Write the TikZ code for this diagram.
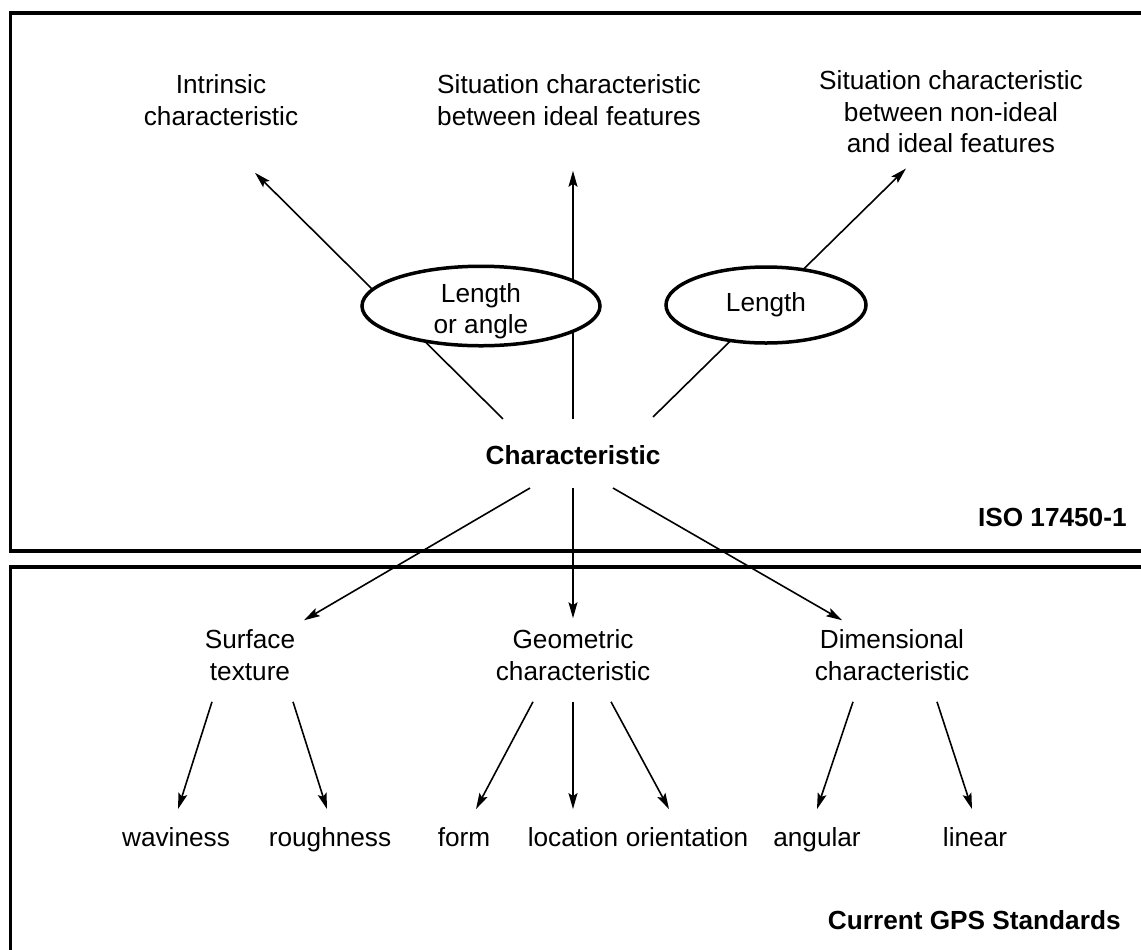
\documentclass[tikz,border=0pt]{standalone}
\usepackage{fontspec}
\setmainfont{Liberation Sans}
\usetikzlibrary{shapes.geometric,arrows.meta,calc}

\begin{document}
\begin{tikzpicture}[x=0.5pt,y=-0.5pt,
        font=\fontsize{13.1}{15.75}\selectfont,
        txt/.style={inner sep=0pt, align=center},
        boldtxt/.style={inner sep=0pt, font=\fontsize{13.1}{15.75}\selectfont\bfseries},
        lbl/.style={inner sep=0pt, text height=9.4pt, text depth=2.6pt},
        arr/.style={line width=0.8pt, -{Stealth[length=8pt,width=4.5pt,inset=1.5pt]}},
        oval/.style={ellipse, draw, line width=1.75pt, fill=white, inner sep=0pt},
        frame/.style={line width=1.75pt}]

        \useasboundingbox (0,0) rectangle (1141,949);

        % frames
        \draw[frame] (1160,13) -- (10.5,13) -- (10.5,551) -- (1160,551);
        \draw[frame] (1160,567) -- (10.5,567) -- (10.5,960);
        \node[boldtxt, anchor=east] (iso) at (1127,517) {ISO 17450-1};
        \node[boldtxt, anchor=east] (gps) at (1121,920) {Current GPS Standards};

        \node[txt] (intr) at (221,100) {Intrinsic\\characteristic};
        \node[txt] (sitid) at (569,100) {Situation characteristic\\between ideal features};
        \node[txt] (sitnon) at (951,112) {Situation characteristic\\between non-ideal\\and ideal features};
        \node[boldtxt] (char) at (573,455) {Characteristic};

        \node[txt] (surf) at (250,655) {Surface\\texture};
        \node[txt] (geo) at (573,655) {Geometric\\characteristic};
        \node[txt] (dim) at (892,655) {Dimensional\\characteristic};

        \foreach \name/\x/\txt in {wav/176/waviness, rough/330/roughness, form/464/form, loc/573/location, orient/687/orientation, ang/817/angular, lin/975/linear} {
            \node[lbl] (\name) at (\x,840) {\txt};
        }

        % ISO 17450-1 part
        \draw[arr] ($(char.north)+(-70,-26)$) -- ($(intr.south)+(34,47)$);
        \draw[arr] ($(char.north)+(0,-26)$) -- ($(sitid.south)+(4,45)$);
        \draw[arr] ($(char.north)+(80,-28)$) -- ($(sitnon.south)+(-45,15)$);

        \node[oval, minimum width=119pt, minimum height=39.75pt,
            label={[txt, yshift=-2.5pt]center:Length\\or angle}] (lenang) at (481,306) {};
        \node[oval, minimum width=100pt, minimum height=38pt] (len) at (766,305) {Length};

        % GPS part
        \draw[arr] ($(char.south)+(-43,23)$) -- ($(surf.north)+(54,-9)$);
        \draw[arr] ($(char.south)+(0,23)$) -- ($(geo.north)+(0,-11)$);
        \draw[arr] ($(char.south)+(40,23)$) -- ($(dim.north)+(-50,-9)$);

        \foreach \from/\fx/\to/\tx in {surf/-38/wav/2, surf/43/rough/-3, geo/-40/form/12, geo/0/loc/0, geo/38/orient/-18, dim/-39/ang/0, dim/45/lin/-3} {
            \draw[arr] ($(\from.south)+(\fx,21)$) -- ($(\to.north)+(\tx,-18.5)$);
        }
    \end{tikzpicture}
\end{document}
